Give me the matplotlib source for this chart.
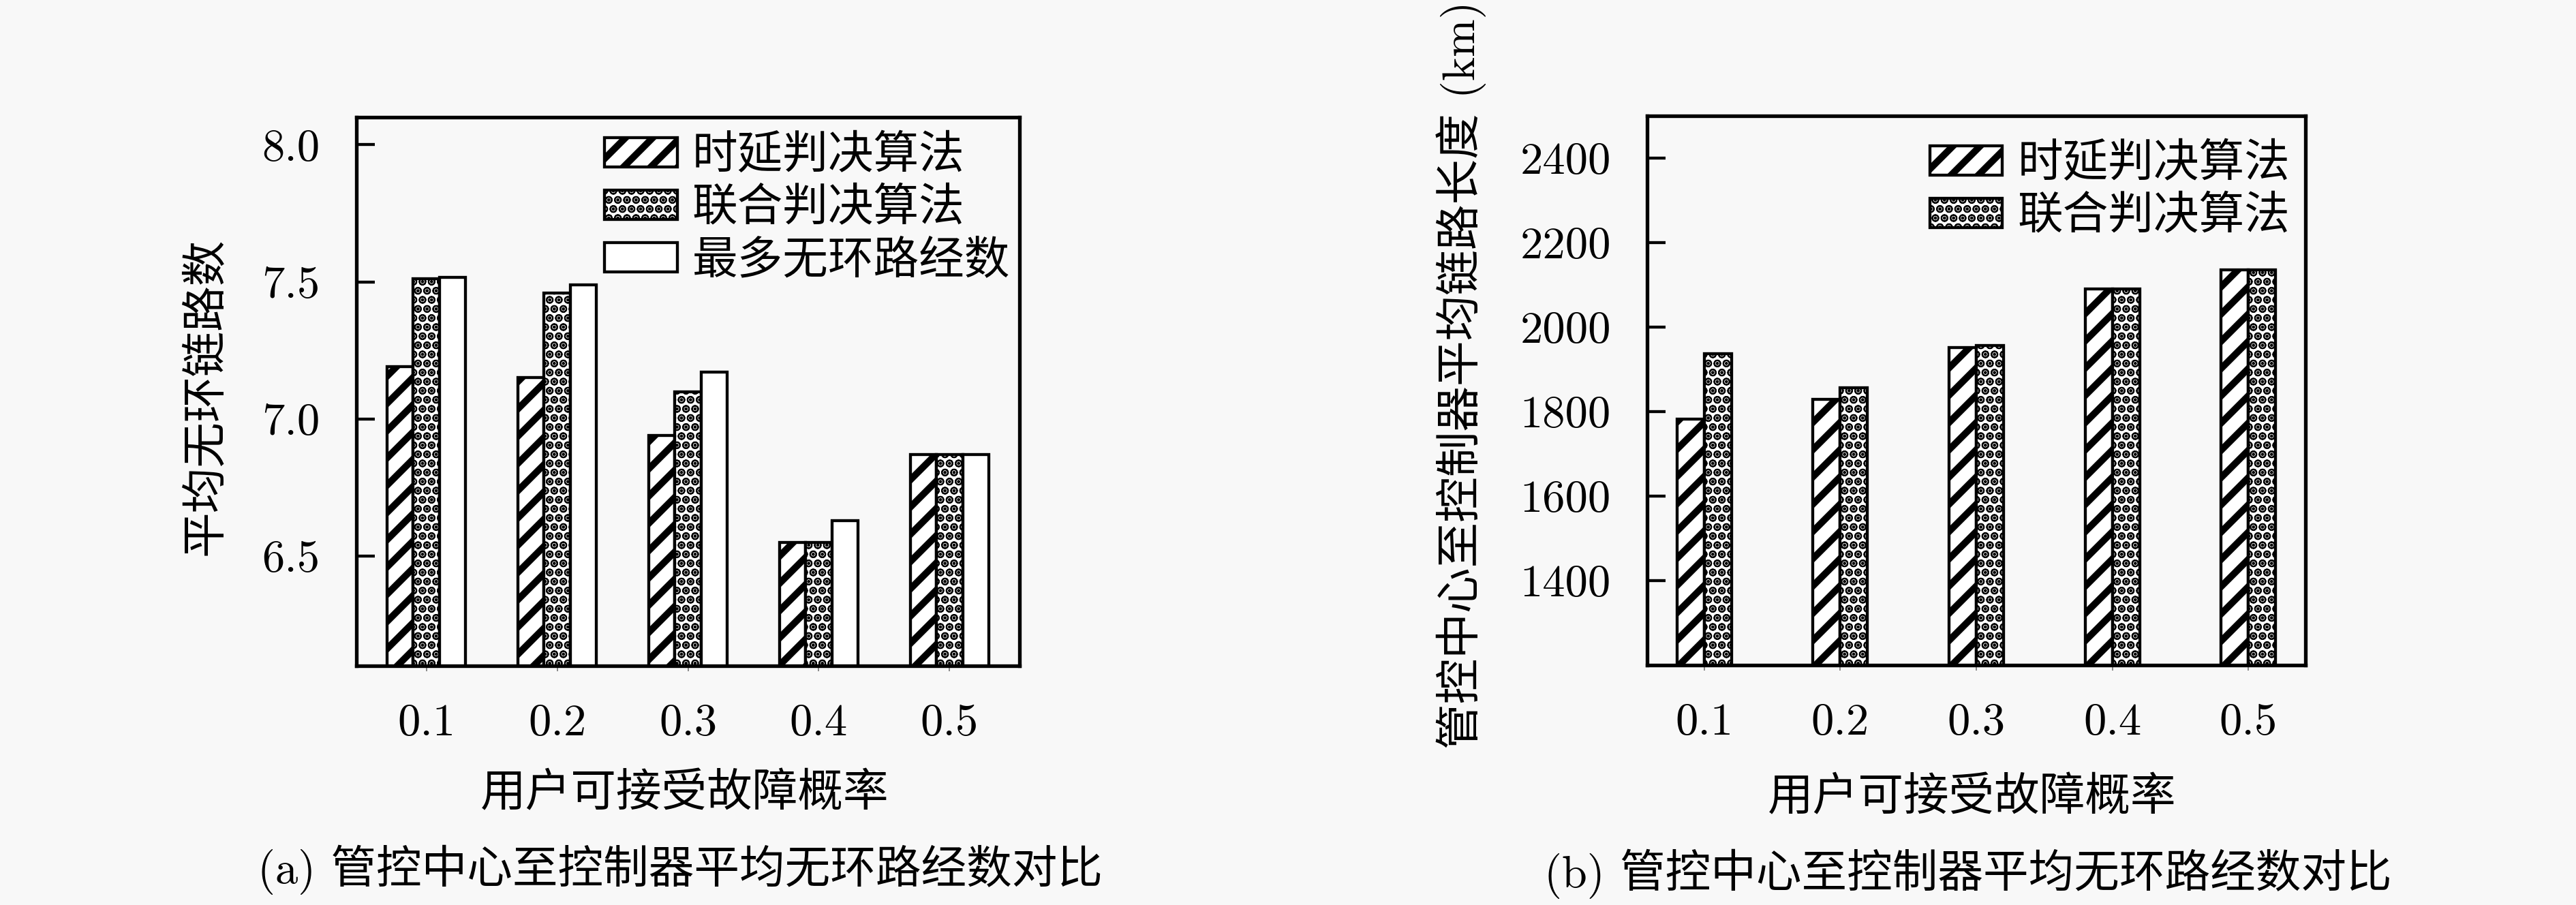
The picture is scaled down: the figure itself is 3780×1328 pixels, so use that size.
import numpy as np
import matplotlib
matplotlib.use('Agg')
import matplotlib.pyplot as plt

# 字体: 数字用 Computer Modern, 中文用 Noto Sans CJK
plt.rcParams['font.family'] = ['cmr10', 'Noto Sans CJK SC']
plt.rcParams['axes.formatter.use_mathtext'] = True
plt.rcParams['axes.unicode_minus'] = False

# 数据
probs = ['0.1', '0.2', '0.3', '0.4', '0.5']
series_names = ['时延判决算法', '联合判决算法', '最多无环路经数']
delay_paths = [7.19, 7.15, 6.94, 6.55, 6.87]
joint_paths = [7.51, 7.46, 7.10, 6.55, 6.87]
max_paths = [7.515, 7.49, 7.17, 6.63, 6.87]
delay_length = [1783, 1829, 1951, 2091, 2136]
joint_length = [1937, 1857, 1956, 2091, 2136]
paths_ticks = [6.5, 7.0, 7.5, 8.0]
length_ticks = [1400, 1600, 1800, 2000, 2200, 2400]

xlabel = '用户可接受故障概率'
ylabel_a = '平均无环链路数'
ylabel_b = '管控中心至控制器平均链路长度 (km)'
caption_a = '(a) 管控中心至控制器平均无环路经数对比'
caption_b = '(b) 管控中心至控制器平均无环路经数对比'

W, H = 3780, 1328
bg = '#f8f8f8'
fs = 20

fig = plt.figure(figsize=(W / 240, H / 240), dpi=240, facecolor=bg)


def px(x, y):
    return x / W, 1 - y / H


# 每种柱子的样式: (hatch, hatch 线宽)
styles = [('//', 3.0), ('OOO...', 0.6), ('', 1.0)]


def draw_bars(ax, data, offsets):
    x = np.arange(len(probs))
    bars = []
    for i, vals in enumerate(data):
        hatch, hlw = styles[i]
        plt.rcParams['hatch.linewidth'] = hlw
        b = ax.bar(x + offsets[i], vals, width=0.2, color='white', edgecolor='black',
                   linewidth=1.3, hatch=hatch, label=series_names[i], zorder=2)
        for p in b:
            if hasattr(p, 'set_hatch_linewidth'):
                p.set_hatch_linewidth(hlw)
        bars.append(b)
    ax.set_xticks(x)
    ax.set_xticklabels(probs, fontsize=fs)
    return bars


def style_axes(ax):
    ax.set_facecolor(bg)
    for s in ax.spines.values():
        s.set_linewidth(1.6)
    ax.tick_params(axis='y', direction='in', length=8, width=1.3, pad=16, labelsize=fs)
    ax.tick_params(axis='x', direction='out', length=2.5, width=0.5, pad=14, labelsize=fs,
                   color='#777777')


def fix_legend(leg, n):
    for i, h in enumerate(leg.legend_handles[:n]):
        if hasattr(h, 'set_hatch_linewidth'):
            h.set_hatch_linewidth(styles[i][1])


# (a) 平均无环链路数
ax1 = fig.add_axes([523 / W, 1 - 977 / H, 973 / W, 805 / H])
style_axes(ax1)
draw_bars(ax1, [delay_paths, joint_paths, max_paths], [-0.2, 0.0, 0.2])
ax1.set_xlim(-0.535, 4.535)
ax1.set_ylim(6.1, 8.1)
ax1.set_yticks(paths_ticks)
ax1.set_yticklabels([f'{v:.1f}' for v in paths_ticks])
leg1 = ax1.legend(loc='upper right', bbox_to_anchor=((1482 - 523) / 973, (977 - 198) / 805),
                  frameon=False, fontsize=fs, borderpad=0, borderaxespad=0,
                  handlelength=1.6, handleheight=0.62, handletextpad=0.33, labelspacing=0.22)
fix_legend(leg1, 3)

# (b) 平均链路长度
ax2 = fig.add_axes([2417 / W, 1 - 976 / H, 966 / W, 806 / H])
style_axes(ax2)
draw_bars(ax2, [delay_length, joint_length], [-0.1, 0.1])
ax2.set_xlim(-0.42, 4.42)
ax2.set_ylim(1200, 2500)
ax2.set_yticks(length_ticks)
ax2.set_yticklabels([str(v) for v in length_ticks])
leg2 = ax2.legend(loc='upper right', bbox_to_anchor=((3360 - 2417) / 966, (976 - 210) / 806),
                  frameon=False, fontsize=fs, borderpad=0, borderaxespad=0,
                  handlelength=1.6, handleheight=0.62, handletextpad=0.33, labelspacing=0.22)
fix_legend(leg2, 2)

# 坐标轴标题和图注
fig.text(*px(303, 582), ylabel_a, rotation=90, ha='center', va='center', fontsize=fs)
fig.text(*px(2144, 550), ylabel_b, rotation=90, ha='center', va='center', fontsize=fs)
fig.text(*px(1005, 1165), xlabel, ha='center', va='center', fontsize=fs)
fig.text(*px(2894, 1171), xlabel, ha='center', va='center', fontsize=fs)
fig.text(*px(998, 1276), caption_a, ha='center', va='center', fontsize=20)
fig.text(*px(2888, 1282), caption_b, ha='center', va='center', fontsize=20)

fig.savefig('out.png', dpi=240, facecolor=bg)
